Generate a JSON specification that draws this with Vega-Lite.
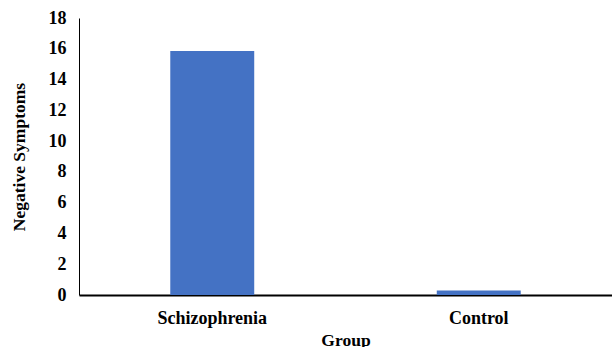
{
  "$schema": "https://vega.github.io/schema/vega-lite/v6.json",
  "autosize": {"type": "none"},
  "padding": {"left": 79, "top": 18, "right": 0, "bottom": 52},
  "width": 533,
  "height": 277,
  "background": "white",
  "config": {
    "view": {"stroke": null},
    "font": "Liberation Serif",
    "axis": {
      "labelFont": "Liberation Serif",
      "titleFont": "Liberation Serif",
      "labelFontWeight": "bold",
      "titleFontWeight": "bold",
      "labelColor": "black",
      "titleColor": "black",
      "labelFontSize": 18,
      "titleFontSize": 17.5,
      "grid": false,
      "ticks": false,
      "domainColor": "black"
    }
  },
  "data": {
    "values": [
      {"Group": "Schizophrenia", "Negative Symptoms": 15.85},
      {"Group": "Control", "Negative Symptoms": 0.3}
    ]
  },
  "mark": {"type": "bar", "color": "#4472C4"},
  "encoding": {
    "x": {
      "field": "Group",
      "type": "nominal",
      "sort": null,
      "scale": {"paddingInner": 0.685, "paddingOuter": 0.3425},
      "axis": {"labelAngle": 0, "labelPadding": 14, "titlePadding": 4, "domainWidth": 2}
    },
    "y": {
      "field": "Negative Symptoms",
      "type": "quantitative",
      "scale": {"domain": [0, 18], "nice": false},
      "axis": {"values": [0, 2, 4, 6, 8, 10, 12, 14, 16, 18], "labelPadding": 13, "titlePadding": 20, "domainWidth": 1}
    }
  }
}
